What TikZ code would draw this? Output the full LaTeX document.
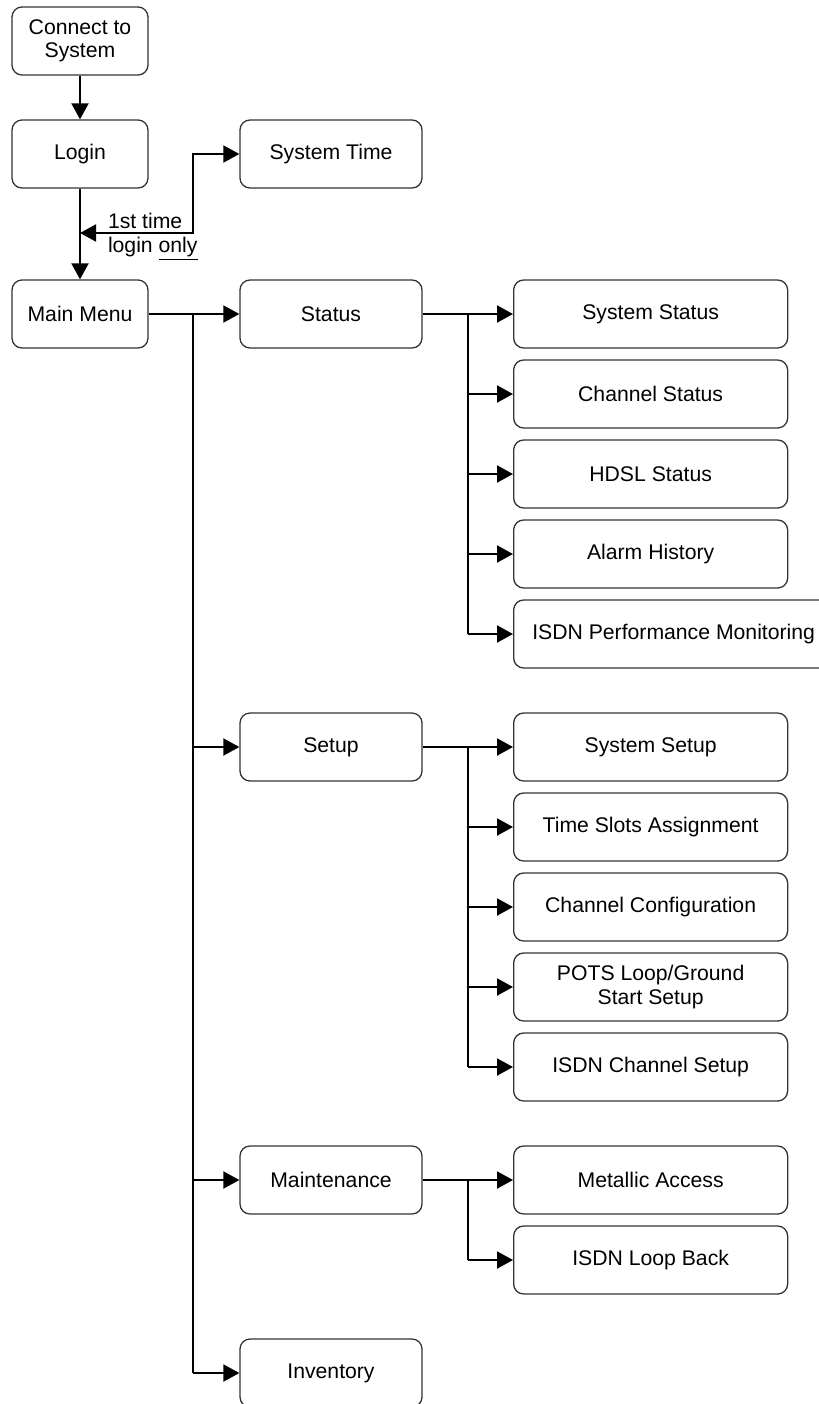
\documentclass[tikz,border=0pt]{standalone}
\usepackage{fontspec}
\setmainfont{Liberation Sans}
\usetikzlibrary{arrows.meta}

\begin{document}
\begin{tikzpicture}[x=0.5pt, y=-0.5pt, line width=1pt,
	box/.style={draw=black!80, line width=0.65pt, rounded corners=5pt, minimum height=34pt,
		align=center, inner sep=2pt, font=\fontsize{10.6}{11.6}\selectfont},
	leftbox/.style={box, minimum width=68pt},
	menubox/.style={box, minimum width=91pt},
	subbox/.style={box, anchor=west, minimum width=137pt},
	arr/.style={-{Triangle[length=8pt, width=8.5pt]}},
	twoarr/.style={{Triangle[length=8pt, width=8.5pt]}-{Triangle[length=8pt, width=8.5pt]}}]
	\path[use as bounding box, clip] (0, 0) rectangle (819, 1404);
	\def\trunk{193}
	\def\branch{468}
	\def\subx{513}

	% login part
	\node[leftbox] (connect) at (80, 41) {Connect to\\System};
	\node[leftbox] (login) at (80, 154) {Login};
	\node[leftbox] (main) at (80, 314) {Main Menu};
	\node[menubox] (systime) at (331, 154) {System Time};
	\draw[arr] (connect) -- (login);
	\draw[arr] (login) -- (main);
	\coordinate (ret) at (80, 233);
	\draw[twoarr] (ret) -- (\trunk, 233) |- (systime);
	\node[anchor=west, align=left, inner sep=0pt, font=\fontsize{10.6}{11.6}\selectfont]
		(once) at (107, 237) {1st time\\login \underline{only}};

	% main menu
	\foreach \name/\y/\txt in {status/314/Status, setup/747/Setup, maint/1180/Maintenance, inv/1373/Inventory}{
		\node[menubox] (\name) at (331, \y) {\txt};
		\draw[arr] (\trunk, \y) -- (\name);
	}
	\draw (main) -- (\trunk, 314) -- (\trunk, 1373);

	% status
	\foreach \txt [count=\i from 0] in {System Status, Channel Status, HDSL Status, Alarm History}{
		\node[subbox] (st\i) at (\subx, 314 + 80*\i) {\txt};
		\draw[arr] (\branch, 314 + 80*\i) -- (st\i);
	}
	\node[subbox, minimum width=160pt] (st4) at (\subx, 634) {ISDN Performance Monitoring};
	\draw[arr] (\branch, 634) -- (st4);
	\draw (status) -- (\branch, 314) -- (\branch, 634);

	% setup
	\foreach \txt [count=\i from 0] in {System Setup, Time Slots Assignment, Channel Configuration, {POTS Loop/Ground\\Start Setup}, ISDN Channel Setup}{
		\node[subbox] (se\i) at (\subx, 747 + 80*\i) {\txt};
		\draw[arr] (\branch, 747 + 80*\i) -- (se\i);
	}
	\draw (setup) -- (\branch, 747) -- (\branch, 1067);

	% maintenance
	\foreach \txt [count=\i from 0] in {Metallic Access, ISDN Loop Back}{
		\node[subbox] (ma\i) at (\subx, 1180 + 80*\i) {\txt};
		\draw[arr] (\branch, 1180 + 80*\i) -- (ma\i);
	}
	\draw (maint) -- (\branch, 1180) -- (\branch, 1260);
\end{tikzpicture}
\end{document}
